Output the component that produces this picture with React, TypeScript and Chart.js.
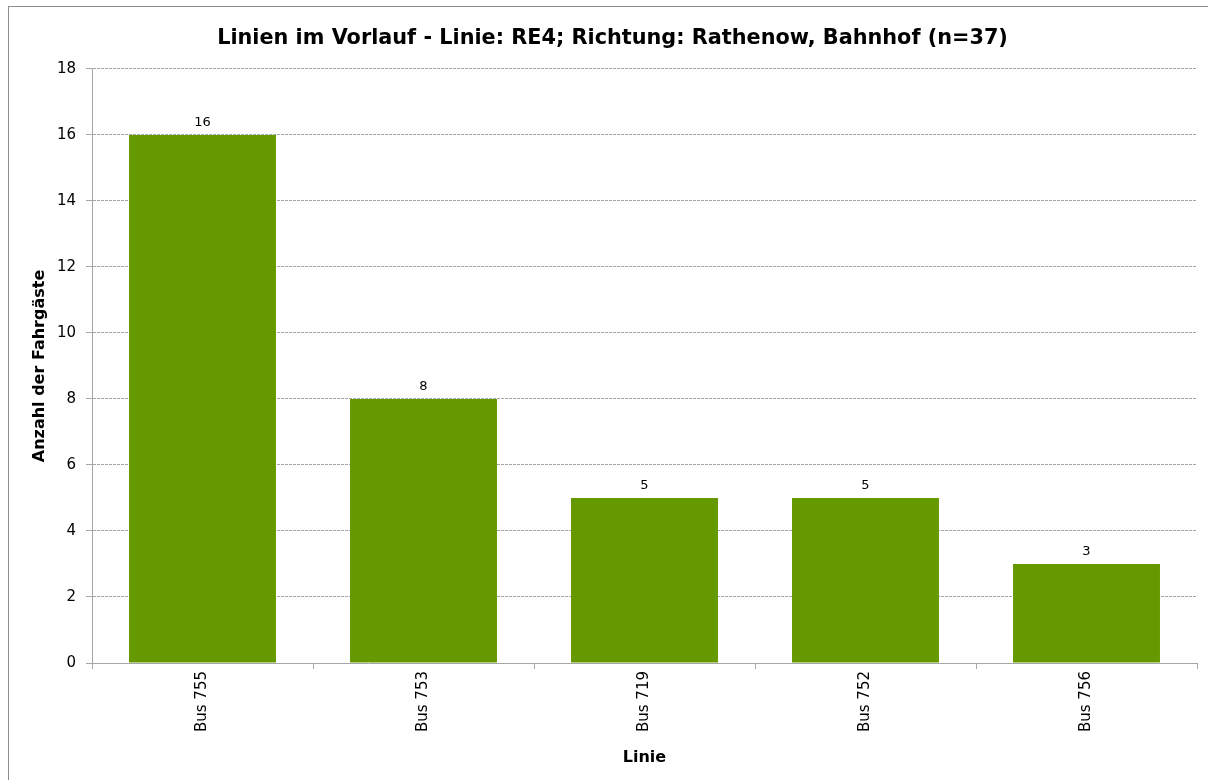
import React, { useEffect, useRef } from "react";
import { Chart, registerables } from "chart.js";

Chart.register(...registerables);

const chartTitle = "Linien im Vorlauf - Linie: RE4; Richtung: Rathenow, Bahnhof (n=37)";
const categories = ["Bus 755", "Bus 753", "Bus 719", "Bus 752", "Bus 756"];
const values = [16, 8, 5, 5, 3];
const yTitle = "Anzahl der Fahrgäste";
const xTitle = "Linie";
const yMin = 0;
const yMax = 18;
const yStep = 2;

const FONT = "'DejaVu Sans', Verdana, sans-serif";

const borderPlugin = {
  id: "outerBorder",
  beforeDraw(chart: any) {
    const ctx = chart.ctx;
    ctx.save();
    ctx.fillStyle = "#ffffff";
    ctx.fillRect(0, 0, chart.width, chart.height);
    ctx.strokeStyle = "#8c8c8c";
    ctx.lineWidth = 1;
    ctx.strokeRect(0.5, 0.5, chart.width + 10, chart.height + 10);
    ctx.restore();
  },
};

const labelPlugin = {
  id: "valueLabels",
  afterDatasetsDraw(chart: any) {
    const ctx = chart.ctx;
    const meta = chart.getDatasetMeta(0);
    ctx.save();
    ctx.font = `13px ${FONT}`;
    ctx.fillStyle = "#000000";
    ctx.textAlign = "center";
    ctx.textBaseline = "bottom";
    meta.data.forEach((bar: any, i: number) => {
      ctx.fillText(String(values[i]), bar.x, bar.y - 6);
    });
    ctx.restore();
  },
};

export default function App() {
  const ref = useRef<HTMLCanvasElement | null>(null);
  useEffect(() => {
    if (!ref.current) return;
    const chart = new Chart(ref.current, {
      type: "bar",
      data: {
        labels: categories,
        datasets: [
          {
            data: values,
            backgroundColor: "#669900",
            borderWidth: 0,
            barPercentage: 0.665,
            categoryPercentage: 1,
          },
        ],
      },
      options: {
        animation: false,
        responsive: false,
        maintainAspectRatio: false,
        events: [],
        layout: { padding: { left: 20, right: 11, top: 0, bottom: 0 } },
        plugins: {
          legend: { display: false },
          tooltip: { enabled: false },
          title: {
            display: true,
            text: chartTitle,
            color: "#000000",
            font: { family: FONT, size: 20.8, weight: "bold" },
            padding: { top: 20, bottom: 18 },
          },
        },
        scales: {
          x: {
            grid: {
              display: true,
              drawOnChartArea: false,
              drawTicks: true,
              tickLength: 6,
              color: "#a6a6a6",
              offset: true,
            },
            border: { display: true, color: "#a6a6a6", width: 1 },
            ticks: {
              color: "#000000",
              font: { family: FONT, size: 15 },
              minRotation: 90,
              maxRotation: 90,
              padding: 2,
              autoSkip: false,
            },
            title: {
              display: true,
              text: xTitle,
              color: "#000000",
              font: { family: FONT, size: 16, weight: "bold" },
              padding: { top: 0, bottom: 13 },
            },
            afterFit: (s: any) => {
              s.height = 117;
            },
          },
          y: {
            min: yMin,
            max: yMax,
            grid: {
              display: true,
              color: "#a6a6a6",
              tickLength: 6,
              drawTicks: true,
              borderDash: [3, 1],
              tickBorderDash: [],
            } as any,
            border: { display: true, color: "#a6a6a6", width: 1, dash: [3, 1] },
            ticks: {
              stepSize: yStep,
              color: "#000000",
              font: { family: FONT, size: 15 },
              padding: 10,
            },
            title: {
              display: true,
              text: yTitle,
              color: "#000000",
              font: { family: FONT, size: 16, weight: "bold" },
              padding: { top: 2, bottom: 0 },
            },
            afterFit: (s: any) => {
              s.width = 64;
            },
          },
        },
      },
      plugins: [borderPlugin, labelPlugin],
    });
    return () => chart.destroy();
  }, []);
  return (
    <div style={{ position: "fixed", left: 0, top: 0, width: 1208, height: 780, overflow: "hidden" }}>
      <canvas
        ref={ref}
        width={1200}
        height={774}
        style={{ position: "absolute", left: 8, top: 6, width: 1200, height: 774 }}
      />
    </div>
  );
}
